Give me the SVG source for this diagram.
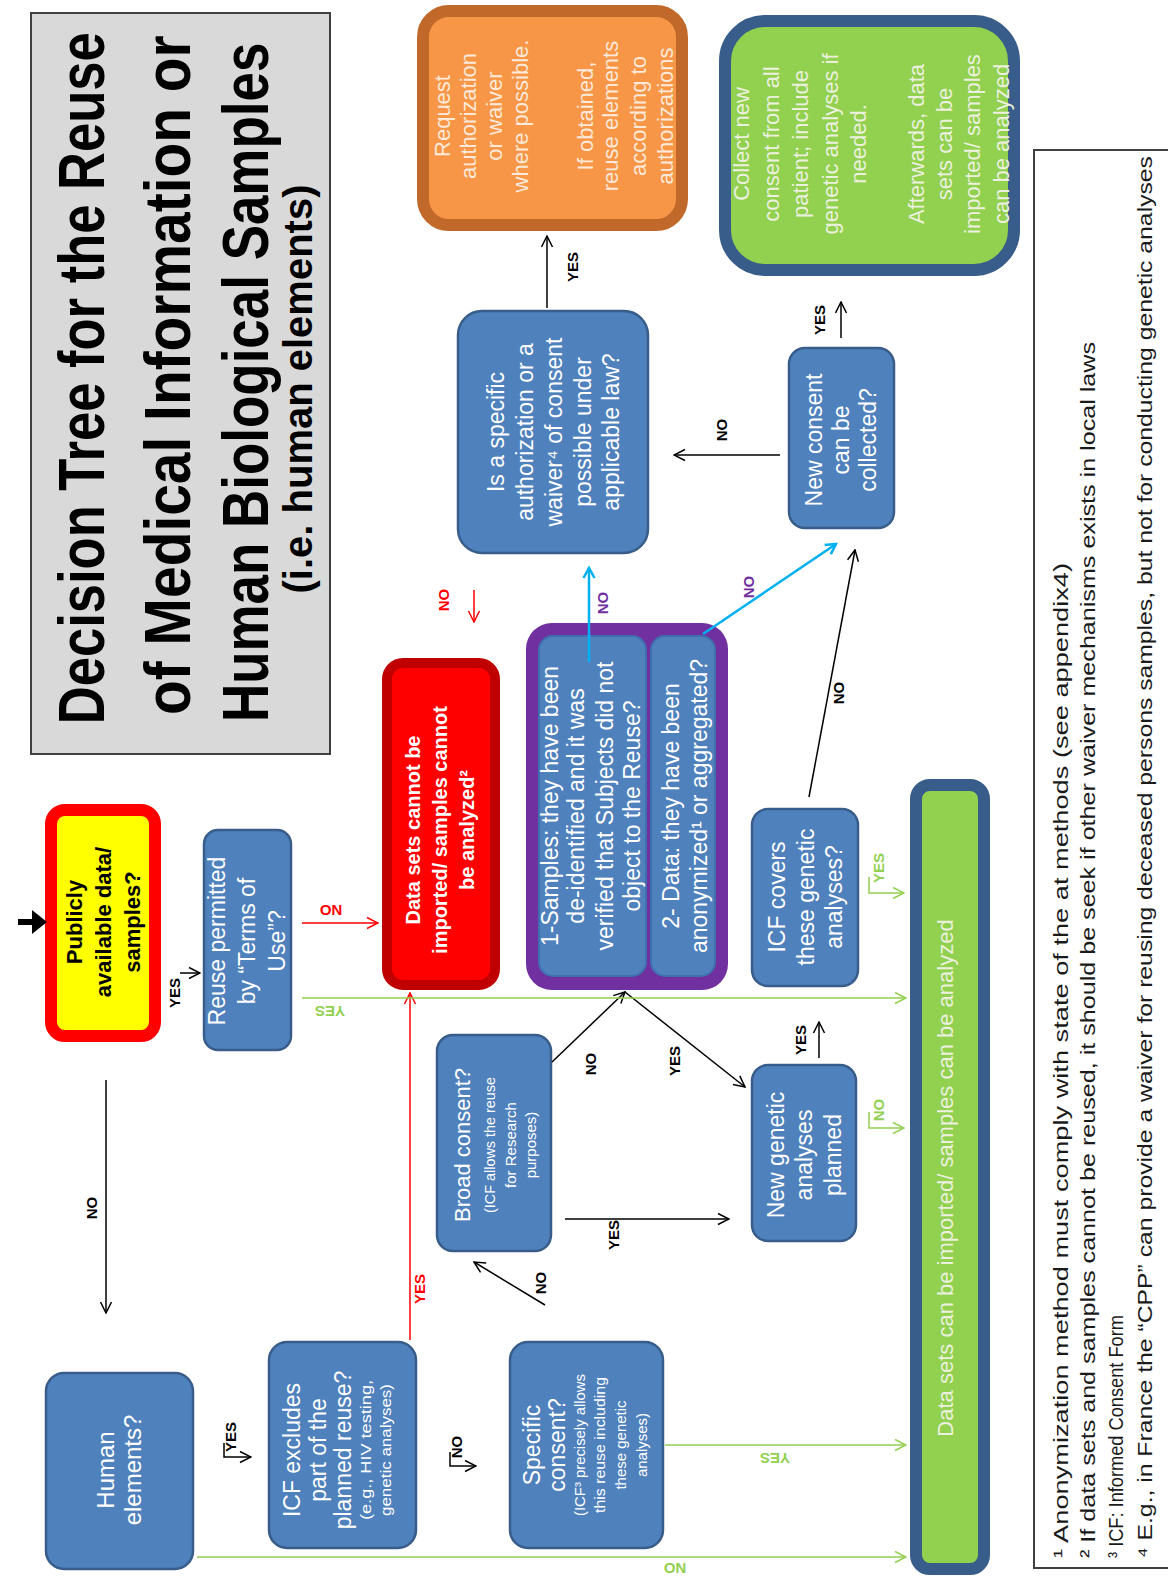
<svg xmlns="http://www.w3.org/2000/svg" width="1168" height="1576" viewBox="0 0 1168 1576">
<defs>
<style>
text{font-family:"Liberation Sans",Arial,sans-serif}
.bx{fill:#4f81bd;stroke:#385d8a;stroke-width:2.5}
.w{fill:#fff;font-size:23px;text-anchor:middle}
.s{font-size:15px}
.lb{font-size:15px;font-weight:bold;text-anchor:middle}
.k{fill:#000}
.gt{fill:#92d050}
.rt{fill:#ff0000}
.pt{fill:#7030a0}
.ln{fill:none;stroke-width:1.5}
.fn{font-size:20px;fill:#1a1a1a}
</style>
<marker id="mk" viewBox="0 0 14 14" refX="13" refY="7" markerWidth="14" markerHeight="14" markerUnits="userSpaceOnUse" orient="auto"><path d="M2,1.5 L13,7 L2,12.5" fill="none" stroke="#000" stroke-width="1.5"/></marker>
<marker id="mg" viewBox="0 0 14 14" refX="13" refY="7" markerWidth="14" markerHeight="14" markerUnits="userSpaceOnUse" orient="auto"><path d="M2,1.5 L13,7 L2,12.5" fill="none" stroke="#92d050" stroke-width="1.5"/></marker>
<marker id="mr" viewBox="0 0 14 14" refX="13" refY="7" markerWidth="14" markerHeight="14" markerUnits="userSpaceOnUse" orient="auto"><path d="M2,1.5 L13,7 L2,12.5" fill="none" stroke="#ff0000" stroke-width="1.5"/></marker>
<marker id="mc" viewBox="0 0 14 14" refX="12" refY="7" markerWidth="14" markerHeight="14" markerUnits="userSpaceOnUse" orient="auto"><path d="M2,1.5 L12,7 L2,12.5" fill="none" stroke="#00b0f0" stroke-width="2.5"/></marker>
</defs>
<rect width="1168" height="1576" fill="#fff"/>

<g id="title">
<rect x="31" y="13" width="299" height="741" fill="#d9d9d9" stroke="#404040" stroke-width="2"/>
<g transform="translate(180,384) rotate(-90)" font-weight="bold" fill="#000" text-anchor="middle">
<text x="7" y="-76" font-size="64" transform="scale(0.821,1)">Decision Tree for the Reuse</text>
<text x="10" y="10" font-size="64" transform="scale(0.889,1)">of Medical Information or</text>
<text x="2" y="88" font-size="64" transform="scale(0.827,1)">Human Biological Samples</text>
<text x="-5" y="132" font-size="40">(i.e. human elements)</text>
</g>
</g>

<g id="publicly">
<rect x="51" y="810" width="104" height="226" rx="14" fill="#ffff00" stroke="#ff0000" stroke-width="12"/>
<g transform="translate(103,922) rotate(-90)" font-weight="bold" font-size="22" text-anchor="middle" fill="#000">
<text y="-21">Publicly</text>
<text y="8">available data/</text>
<text y="37">samples?</text>
</g>
</g>

<g id="reuse">
<rect class="bx" x="204" y="830" width="87" height="220" rx="14"/>
<g transform="translate(247,941) rotate(-90)" class="w">
<text y="-22">Reuse permitted</text>
<text y="8">by “Terms of</text>
<text y="38">Use”?</text>
</g>
</g>

<g id="human">
<rect class="bx" x="46" y="1373" width="147" height="196" rx="18"/>
<g transform="translate(119,1470) rotate(-90)" class="w" style="font-size:24px">
<text y="-5">Human</text>
<text y="22">elements?</text>
</g>
</g>

<g id="icfexcludes">
<rect class="bx" x="269" y="1342" width="147" height="206" rx="18"/>
<g transform="translate(342,1450) rotate(-90)" class="w">
<text y="-42">ICF excludes</text>
<text y="-16">part of the</text>
<text y="9">planned reuse?</text>
<text y="29" class="s" textLength="140" lengthAdjust="spacingAndGlyphs">(e.g., HIV testing,</text>
<text y="49" class="s" textLength="132" lengthAdjust="spacingAndGlyphs">genetic analyses)</text>
</g>
</g>

<g id="broad">
<rect class="bx" x="437" y="1035" width="114" height="216" rx="16"/>
<g transform="translate(494,1145) rotate(-90)" class="w">
<text y="-24" font-size="22">Broad consent?</text>
<text y="1" class="s" textLength="136" lengthAdjust="spacingAndGlyphs">(ICF allows the reuse</text>
<text y="22" class="s">for Research</text>
<text y="42" class="s">purposes)</text>
</g>
</g>

<g id="specific">
<rect class="bx" x="510" y="1342" width="153" height="206" rx="18"/>
<g transform="translate(586,1445) rotate(-90)" class="w">
<text y="-46">Specific</text>
<text y="-21">consent?</text>
<text y="-1" class="s" textLength="142" lengthAdjust="spacingAndGlyphs">(ICF³ precisely allows</text>
<text y="19" class="s" textLength="136" lengthAdjust="spacingAndGlyphs">this reuse including</text>
<text y="40" class="s">these genetic</text>
<text y="61" class="s">analyses)</text>
</g>
</g>

<g id="cannot">
<rect x="387" y="663" width="108" height="322" rx="16" fill="#ff0000" stroke="#c00000" stroke-width="10"/>
<g transform="translate(441,830) rotate(-90)" class="w" font-weight="bold" style="font-size:20px">
<text y="-21">Data sets cannot be</text>
<text y="6">imported/ samples cannot</text>
<text y="33">be analyzed²</text>
</g>
</g>

<g id="deidentified">
<rect x="526" y="623" width="202" height="367" rx="26" fill="#7030a0"/>
<rect x="539" y="636" width="107" height="340" rx="14" fill="#4f81bd" stroke="#3f6fae" stroke-width="2"/>
<rect x="651" y="636" width="64" height="340" rx="14" fill="#4f81bd" stroke="#3f6fae" stroke-width="2"/>
<g transform="translate(627,806) rotate(-90)" class="w">
<text y="-69">1-Samples: they have been</text>
<text y="-43">de-identified and it was</text>
<text y="-14">verified that Subjects did not</text>
<text y="13">object to the Reuse?</text>
<text y="52">2- Data: they  have been</text>
<text y="80">anonymized¹ or aggregated?</text>
</g>
</g>

<g id="waiver">
<rect class="bx" x="458" y="311" width="190" height="242" rx="24"/>
<g transform="translate(552,432) rotate(-90)" class="w">
<text y="-48">Is a specific</text>
<text y="-19">authorization or a</text>
<text y="10">waiver⁴ of consent</text>
<text y="39">possible under</text>
<text y="67">applicable law?</text>
</g>
</g>

<g id="request">
<rect x="423" y="11" width="259" height="214" rx="26" fill="#f79646" stroke="#c0692a" stroke-width="12"/>
<g transform="translate(552,116) rotate(-90)" class="w" style="fill:#fde9d9;font-size:22px">
<text y="-102">Request</text>
<text y="-76">authorization</text>
<text y="-50">or waiver</text>
<text y="-24">where possible.</text>
<text y="41">If obtained,</text>
<text y="66">reuse elements</text>
<text y="94">according to</text>
<text y="121">authorizations</text>
</g>
</g>

<g id="collect">
<rect x="725" y="21" width="289" height="249" rx="40" fill="#92d050" stroke="#385d8a" stroke-width="12"/>
<g transform="translate(869,144) rotate(-90)" class="w" style="fill:#ebf1de;font-size:22px">
<text y="-120">Collect new</text>
<text y="-90">consent from all</text>
<text y="-61">patient; include</text>
<text y="-31">genetic analyses if</text>
<text y="-3">needed.</text>
<text y="55">Afterwards, data</text>
<text y="83">sets can be</text>
<text y="111">imported/ samples</text>
<text y="140">can be analyzed</text>
</g>
</g>

<g id="newconsent">
<rect class="bx" x="789" y="348" width="105" height="180" rx="16"/>
<g transform="translate(841,440) rotate(-90)" class="w">
<text y="-19">New consent</text>
<text y="8">can be</text>
<text y="35">collected?</text>
</g>
</g>

<g id="icfcovers">
<rect class="bx" x="752" y="809" width="106" height="177" rx="16"/>
<g transform="translate(805,897) rotate(-90)" class="w">
<text y="-20">ICF covers</text>
<text y="9">these genetic</text>
<text y="37">analyses?</text>
</g>
</g>

<g id="newgenetic">
<rect class="bx" x="752" y="1065" width="104" height="176" rx="16"/>
<g transform="translate(804,1155) rotate(-90)" class="w">
<text y="-20">New genetic</text>
<text y="8">analyses</text>
<text y="37">planned</text>
</g>
</g>

<g id="canbe">
<rect x="916" y="785" width="68" height="784" rx="14" fill="#92d050" stroke="#385d8a" stroke-width="12"/>
<text transform="translate(950,1178) rotate(-90)" y="3" class="w" style="fill:#ebf1de;font-size:22px">Data sets can be imported/ samples can be analyzed</text>
</g>

<g id="footnotes">
<rect x="1034" y="150" width="140" height="1418" fill="none" stroke="#404040" stroke-width="2"/>
<text class="fn" transform="translate(1068,1558) rotate(-90)" textLength="995" lengthAdjust="spacingAndGlyphs">¹ Anonymization method must comply with state of the at methods (see appendix4)</text>
<text class="fn" transform="translate(1095,1558) rotate(-90)" textLength="1216" lengthAdjust="spacingAndGlyphs">² If data sets and samples cannot be reused, it should be seek if other waiver mechanisms exists in local laws</text>
<text class="fn" transform="translate(1123,1558) rotate(-90)" textLength="243" lengthAdjust="spacingAndGlyphs">³ ICF: Informed Consent Form</text>
<text class="fn" transform="translate(1152,1558) rotate(-90)" textLength="1402" lengthAdjust="spacingAndGlyphs">⁴ E.g., in France the “CPP” can provide a waiver for reusing deceased persons samples, but not for conducting genetic analyses</text>
</g>

<g id="connectors">
<line x1="18" y1="922" x2="36" y2="922" stroke="#000" stroke-width="6"/>
<polygon points="32,910 47,922 32,934" fill="#000"/>
<line class="ln" x1="106" y1="1080" x2="106" y2="1313" stroke="#000" marker-end="url(#mk)"/>
<line class="ln" x1="180" y1="973" x2="200" y2="973" stroke="#000" marker-end="url(#mk)"/>
<polyline class="ln" points="224,1443 224,1457 251,1457" stroke="#000" marker-end="url(#mk)"/>
<polyline class="ln" points="450,1452 450,1466 476,1466" stroke="#000" marker-end="url(#mk)"/>
<line class="ln" x1="545" y1="1305" x2="474" y2="1262" stroke="#000" marker-end="url(#mk)"/>
<line class="ln" x1="565" y1="1219" x2="729" y2="1219" stroke="#000" marker-end="url(#mk)"/>
<line class="ln" x1="552" y1="1062" x2="625" y2="992" stroke="#000" marker-end="url(#mk)"/>
<line class="ln" x1="625" y1="992" x2="745" y2="1087" stroke="#000" marker-end="url(#mk)"/>
<line class="ln" x1="819" y1="1058" x2="819" y2="1022" stroke="#000" marker-end="url(#mk)"/>
<line class="ln" x1="809" y1="797" x2="855" y2="550" stroke="#000" marker-end="url(#mk)"/>
<line class="ln" x1="841" y1="338" x2="841" y2="302" stroke="#000" marker-end="url(#mk)"/>
<line class="ln" x1="780" y1="455" x2="674" y2="455" stroke="#000" marker-end="url(#mk)"/>
<line class="ln" x1="547" y1="308" x2="547" y2="236" stroke="#000" marker-end="url(#mk)"/>
<line class="ln" x1="302" y1="923" x2="378" y2="923" stroke="#ff0000" marker-end="url(#mr)"/>
<line class="ln" x1="410" y1="1340" x2="410" y2="993" stroke="#ff0000" marker-end="url(#mr)"/>
<line class="ln" x1="474" y1="590" x2="474" y2="622" stroke="#ff0000" marker-end="url(#mr)"/>
<line class="ln" x1="302" y1="998" x2="906" y2="998" stroke="#92d050" marker-end="url(#mg)"/>
<line class="ln" x1="197" y1="1557" x2="906" y2="1557" stroke="#92d050" marker-end="url(#mg)"/>
<line class="ln" x1="665" y1="1445" x2="906" y2="1445" stroke="#92d050" marker-end="url(#mg)"/>
<polyline class="ln" points="869,1112 869,1128 904,1128" stroke="#92d050" marker-end="url(#mg)"/>
<polyline class="ln" points="869,877 869,893 904,893" stroke="#92d050" marker-end="url(#mg)"/>
<line x1="589" y1="662" x2="589" y2="568" stroke="#00b0f0" stroke-width="2.5" marker-end="url(#mc)"/>
<line x1="703" y1="634" x2="836" y2="544" stroke="#00b0f0" stroke-width="2.5" marker-end="url(#mc)"/>
<text class="lb k" transform="translate(97,1208) rotate(-90)">NO</text>
<text class="lb k" transform="translate(180,993) rotate(-90)">YES</text>
<text class="lb k" transform="translate(236,1437) rotate(-90)">YES</text>
<text class="lb k" transform="translate(462,1447) rotate(-90)">NO</text>
<text class="lb k" transform="translate(546,1283) rotate(-90)">NO</text>
<text class="lb k" transform="translate(619,1235) rotate(-90)">YES</text>
<text class="lb k" transform="translate(596,1064) rotate(-90)">NO</text>
<text class="lb k" transform="translate(680,1061) rotate(-90)">YES</text>
<text class="lb k" transform="translate(806,1040) rotate(-90)">YES</text>
<text class="lb k" transform="translate(844,693) rotate(-90)">NO</text>
<text class="lb k" transform="translate(825,320) rotate(-90)">YES</text>
<text class="lb k" transform="translate(727,430) rotate(-90)">NO</text>
<text class="lb k" transform="translate(578,267) rotate(-90)">YES</text>
<text class="lb rt" transform="translate(449,600) rotate(-90)">NO</text>
<text class="lb rt" transform="translate(425,1289) rotate(-90)">YES</text>
<text class="lb rt" transform="translate(331,905) rotate(180)">NO</text>
<text class="lb gt" transform="translate(330,1006) rotate(180)">YES</text>
<text class="lb gt" transform="translate(775,1453) rotate(180)">YES</text>
<text class="lb gt" transform="translate(675,1563) rotate(180)">NO</text>
<text class="lb gt" transform="translate(884,1110) rotate(-90)">NO</text>
<text class="lb gt" transform="translate(884,868) rotate(-90)">YES</text>
<text class="lb pt" transform="translate(608,603) rotate(-90)">NO</text>
<text class="lb pt" transform="translate(754,587) rotate(-90)">NO</text>
</g>
</svg>
